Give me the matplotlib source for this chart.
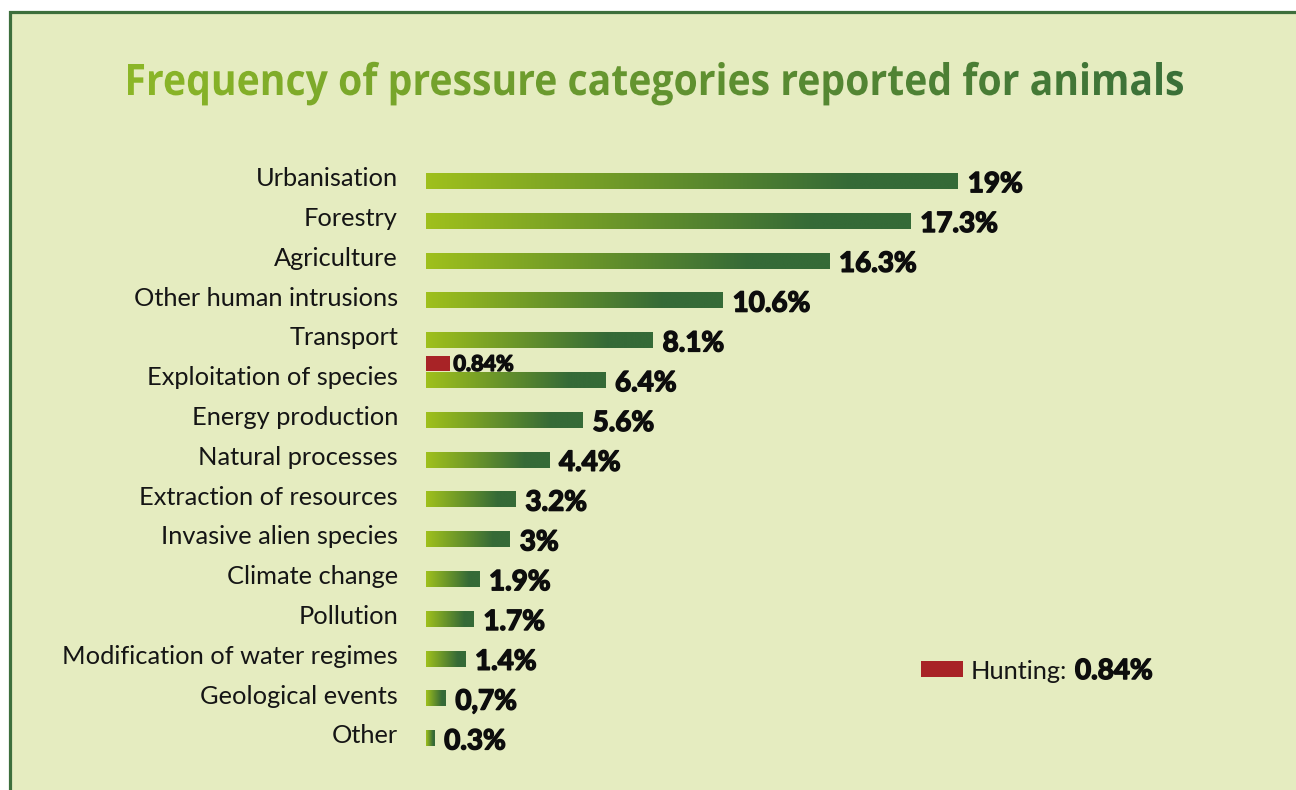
import numpy as np
import matplotlib
matplotlib.use("Agg")
import matplotlib.pyplot as plt
import matplotlib.patheffects as pe
from matplotlib.patches import Rectangle, PathPatch
from matplotlib.textpath import TextPath
from matplotlib.font_manager import FontProperties
from matplotlib.transforms import Affine2D
from matplotlib.colors import to_rgb

# ---------------- data ----------------
categories = ["Urbanisation", "Forestry", "Agriculture", "Other human intrusions",
              "Transport", "Exploitation of species", "Energy production",
              "Natural processes", "Extraction of resources", "Invasive alien species",
              "Climate change", "Pollution", "Modification of water regimes",
              "Geological events", "Other"]
bar_values = [19.0, 17.3, 14.4, 10.6, 8.1, 6.4, 5.6, 4.4, 3.2, 3.0, 1.9, 1.7, 1.4, 0.7, 0.3]
value_labels = ["19%", "17.3%", "16.3%", "10.6%", "8.1%", "6.4%", "5.6%", "4.4%",
                "3.2%", "3%", "1.9%", "1.7%", "1.4%", "0,7%", "0.3%"]
hunting_value = 0.84
hunting_label = "0.84%"
title = "Frequency of pressure categories reported for animals"

# ---------------- style ----------------
W, H = 1296, 790
BG = "#e5ecc0"
FRAME = "#3d6f3c"
LIGHT = np.array(to_rgb("#9fc01c"))
DARK = np.array(to_rgb("#356a37"))
RED = "#a82326"
INK = "#0d0d0d"
LABEL_FONT = "Lato"
VALUE_FONT = ["Lato", "DejaVu Sans"]
HEAVY = [pe.withStroke(linewidth=1.1, foreground=INK)]

fig = plt.figure(figsize=(W / 100, H / 100), dpi=100)
fig.patch.set_facecolor("white")

# background axes in pixel coordinates
bg = fig.add_axes([0, 0, 1, 1], zorder=0)
bg.set_xlim(0, W)
bg.set_ylim(H, 0)
bg.axis("off")
bg.add_patch(Rectangle((10, 12), 1400, 900, facecolor=BG, edgecolor=FRAME, lw=2.3))

# gradient title
fp = FontProperties(family="Open Sans", weight="bold")
tp = TextPath((0, 0), title, size=100, prop=fp)
cap = TextPath((0, 0), "F", size=100, prop=fp).get_extents().height
ext = tp.get_extents()
x0, x1, base, capH = 128, 1183, 95, 31
sx = (x1 - x0) / ext.width
sy = capH / cap
tr = Affine2D().translate(-ext.x0, 0).scale(sx, -sy).translate(x0, base)
path = tr.transform_path(tp)
t = np.linspace(0, 1, 512)
grad_t = np.array([to_rgb("#8cb727")]) * (1 - t[:, None]) + np.array([to_rgb("#3a7039")]) * t[:, None]
img = bg.imshow(grad_t[None, :, :], extent=(x0, x1, base + 15, base - capH - 5),
                aspect="auto", interpolation="bilinear", zorder=2)
clip = PathPatch(path, transform=bg.transData, facecolor="none", edgecolor="none")
bg.add_patch(clip)
img.set_clip_path(clip)

# legend for hunting
bg.add_patch(Rectangle((921, 661), 42, 16, facecolor=RED, edgecolor="none"))
bg.text(971, 679, "Hunting:", fontsize=18.3, family=LABEL_FONT, color="#151515",
        va="baseline", ha="left")
bg.text(1075, 679, hunting_label, fontsize=20, family=VALUE_FONT, weight="bold",
        color=INK, va="baseline", ha="left", path_effects=HEAVY)

bg.set_xlim(0, W)
bg.set_ylim(H, 0)

# ---------------- main axes ----------------
px_per_unit = 28.0
row0, row_step = 181.0, 39.8
ax_top, ax_bot = 150, 780
ax = fig.add_axes([426 / W, (H - ax_bot) / H, (W - 426) / W, (ax_bot - ax_top) / H], zorder=1)
ax.set_facecolor("none")
ax.axis("off")

tt = np.linspace(0, 1, 256)
f = np.clip(tt / 0.8, 0, 1)
grad = LIGHT[None, :] * (1 - f[:, None]) + DARK[None, :] * f[:, None]
bh = 0.2  # half bar height in rows

for i, (cat, v, lab) in enumerate(zip(categories, bar_values, value_labels)):
    ax.imshow(grad[None, :, :], extent=(0, v, i + bh, i - bh), aspect="auto",
              interpolation="bilinear", zorder=2)
    ax.text(-1.0, i + 0.13, cat, ha="right", va="baseline", fontsize=18.3,
            family=LABEL_FONT, color="#151515", clip_on=False)
    ax.text(v + 0.35, i + 0.28, lab, ha="left", va="baseline", fontsize=20,
            family=VALUE_FONT, weight="bold", color=INK, clip_on=False,
            path_effects=HEAVY)

# hunting bar within exploitation row
hi = categories.index("Exploitation of species")
ax.barh(hi - 0.42, hunting_value, height=0.38, left=0, color=RED, zorder=3)
ax.text(0.98, hi - 0.23, hunting_label, ha="left", va="baseline", fontsize=15.5,
        family=VALUE_FONT, weight="bold", color=INK, clip_on=False,
        path_effects=HEAVY)

ax.set_xlim(0, (W - 426) / px_per_unit)
ax.set_ylim((ax_bot - row0) / row_step, (ax_top - row0) / row_step)

fig.savefig("out.png", dpi=100, facecolor="white")
